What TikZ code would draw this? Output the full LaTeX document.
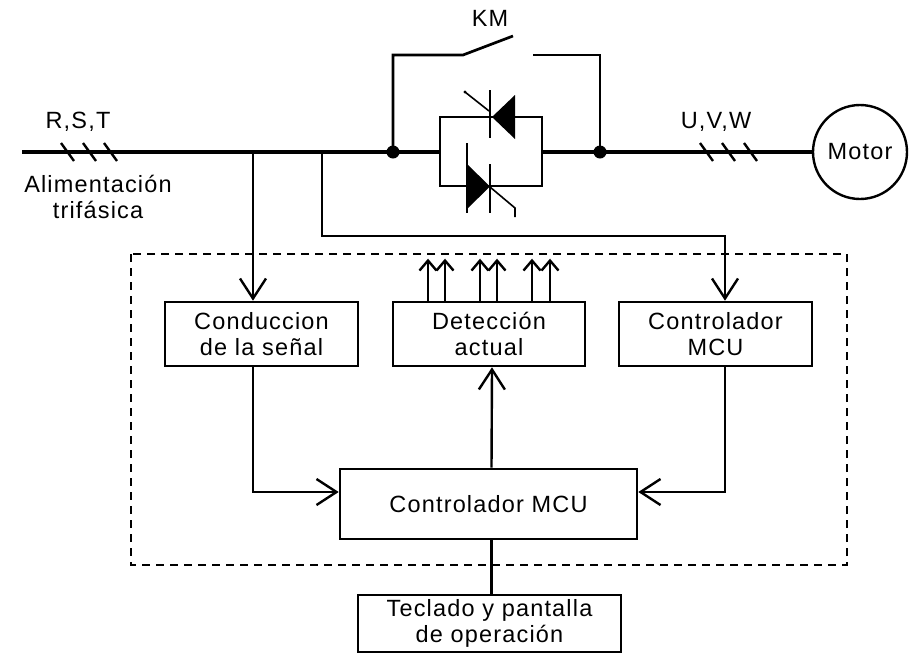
\documentclass[tikz,border=0pt]{standalone}
\usepackage{fontspec}
\setmainfont{Liberation Sans}[LetterSpace=5]
\usetikzlibrary{arrows.meta}
\begin{document}
\begin{tikzpicture}[x=1pt,y={(0pt,-1pt)},
  power/.style={line width=4pt},
  wire/.style={line width=2.4pt},
  sw/.style={line width=2.7pt},
  thin/.style={line width=1.6pt},
  arr/.style={wire,-{Straight Barb[length=20pt,width=26pt,line width=2.4pt]}},
  sarr/.style={wire,-{Straight Barb[length=10pt,width=17pt,line width=2.4pt]}},
  txt/.style={font=\fontsize{23.5}{26}\selectfont, align=center, inner sep=0pt},
  blk/.style={draw, line width=2.6pt, align=center, inner sep=0pt, font=\fontsize{23.5}{26}\selectfont},
  dot/.style={circle, fill=black, inner sep=0pt, minimum size=13pt},
  hatch/.style={line width=2.4pt}]
\useasboundingbox (0,0) rectangle (921,659);

% boxes
\node[blk, minimum width=193pt, minimum height=64pt] (cond) at (261.5,334) {Conduccion\\de la señal};
\node[blk, minimum width=192pt, minimum height=64pt] (det) at (489,334) {Detección\\actual};
\node[blk, minimum width=193pt, minimum height=64pt] (ctrl) at (715.5,334) {Controlador\\MCU};
\node[blk, minimum width=297pt, minimum height=70pt] (mcu) at (488.5,504) {Controlador MCU};
\node[blk, minimum width=263pt, minimum height=57pt] (tec) at (489.5,623.5) {Teclado y pantalla\\de operación};
\node[draw, circle, line width=2.4pt, minimum size=94pt, inner sep=0pt, font=\fontsize{23.5}{26}\selectfont] (motor) at (860,152) {Motor};

% dashed enclosure
\draw[line width=2.6pt, dash pattern=on 8pt off 6pt] (131,254) rectangle (847,565);

% power line
\coordinate (L) at (22,152);
\node[dot] (da) at (393,152) {};
\node[dot] (db) at (600,152) {};
\coordinate (tl) at (440,117);
\coordinate (br) at (542,186);
\coordinate (fa) at (253,152);
\coordinate (fb) at (322,152);
\coordinate (turn) at (725,236);
\draw[power] (L) -- (da.center) -- (tl |- da);
\draw[power] (br |- db) -- (db.center) -- (motor.west);

% KM switch
\coordinate (swa) at (463,55);
\coordinate (swt) at (513,36);
\coordinate (swb) at (533,55);
\draw[sw] (da.center) |- (swa) -- (swt);
\draw[sw] (swb) -| (db.center);
\node[txt] (km) at (490,18) {KM};

% thyristor bridge
\draw[sw] (tl) rectangle (br);
% upper thyristor (pointing left)
\fill (515,95) -- (515,139) -- (492,117) -- cycle;
\draw[sw] (490,90) -- (490,138);
\draw[thin] (489,111) -- (465,92);
\fill (465,92) circle (1.6pt);
% lower thyristor (pointing right)
\fill (467,164) -- (467,209) -- (490,186.5) -- cycle;
\draw[thin] (467,143) -- (467,213);
\draw[sw] (490,164) -- (490,213);
\draw[thin] (490,187) -- (515,208) -- (515,217);

% hatches
\foreach \hx in {68,90,111,707,729,751}
  \draw[hatch] (\hx-7,143) -- (\hx+6,161);

% labels
\node[txt] (rst) at (78,122) {R,S,T};
\node[txt] (uvw) at (716,122) {U,V,W};
\node[txt] (alim) at (98,197) {Alimentación\\trifásica};

% feeds
\draw[arr] (fa) -- (cond.north -| fa);
\draw[arr] (fb) |- (turn) -- (turn |- ctrl.north);

% internal connections
\draw[arr] (cond.south -| fa) |- ([yshift=12pt]mcu.west);
\draw[arr] (ctrl.south -| turn) |- ([yshift=12pt]mcu.east);
\draw[arr] ([xshift=3pt]mcu.north) -- ([xshift=3pt]det.south);
\draw[wire] ([xshift=3pt]mcu.south) -- ([xshift=3pt]mcu.south |- tec.north);

% current detection outputs
\foreach \dx in {-61,-44,-9,8,43,61}
  \draw[sarr] ([xshift=\dx pt]det.north) -- ++(0,-42);
\end{tikzpicture}
\end{document}
